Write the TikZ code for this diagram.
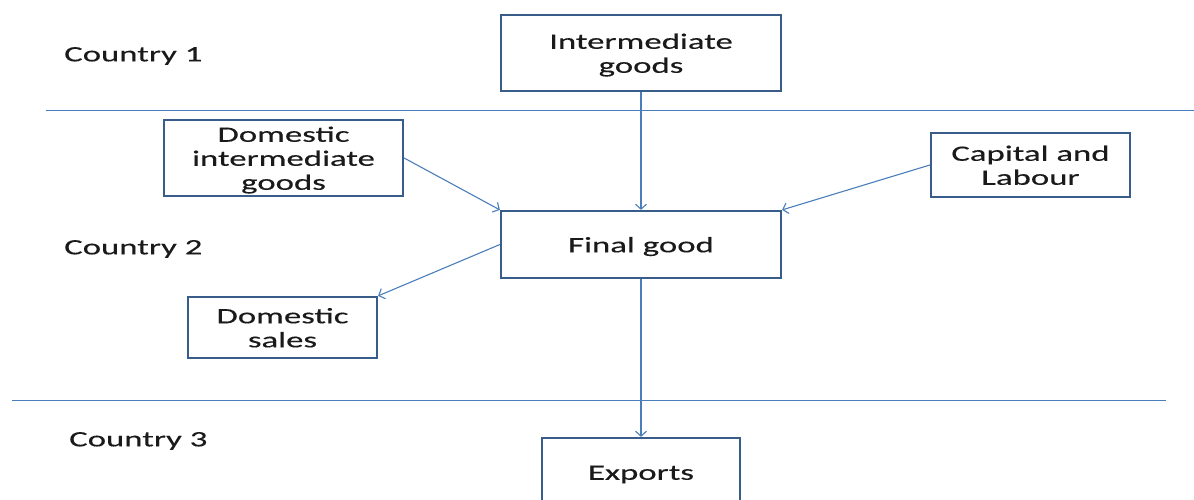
\documentclass[tikz,border=0pt]{standalone}
\usepackage{fontspec}
\setmainfont{Carlito}[FakeStretch=1.58,FakeBold=0.3]
\usetikzlibrary{arrows.meta}
\definecolor{boxline}{HTML}{385D8A}
\definecolor{conn}{HTML}{4A7EBB}
\definecolor{txt}{HTML}{1A1A1A}
\newcommand\boxtext[1]{\raisebox{-3pt}[\height][\depth]{\begin{tabular}{@{}c@{}}#1\end{tabular}}}
\tikzset{
  box/.style={draw=boxline, line width=2.2pt, fill=white, align=center, inner sep=0pt,
    text=txt, font=\fontsize{22}{24}\selectfont},
  label/.style={anchor=west, inner sep=0pt, text=txt, font=\fontsize{22}{24}\selectfont},
  conn/.style={draw=conn, line width=1.1pt, -{Straight Barb[length=5pt,width=11pt,line width=1.1pt]}},
  sep/.style={draw=conn, line width=1pt}
}
\begin{document}
\begin{tikzpicture}[x=1pt,y=-1pt]
\useasboundingbox (0,0) rectangle (1194,500);
\clip (0,0) rectangle (1194,500);
% separator lines
\draw[sep] (46,111) -- (1194,111);
\draw[sep] (12,400) -- (1166,400);
% country labels
\node[label] (c1) at (64,56) {Country 1};
\node[label] (c2) at (64,249) {Country 2};
\node[label] (c3) at (69,441) {Country 3};
% boxes
\node[box, minimum width=280, minimum height=76] (ig) at (641,53) {\boxtext{Intermediate\\goods}};
\node[box, minimum width=239, minimum height=76] (dig) at (283.5,158) {\boxtext{Domestic\\intermediate\\goods}};
\node[box, minimum width=199, minimum height=64] (cl) at (1030.5,165) {\boxtext{Capital and\\Labour}};
\node[box, minimum width=280, minimum height=67] (fg) at (641,244.5) {\boxtext{Final good}};
\node[box, minimum width=189, minimum height=61] (ds) at (282.5,327.5) {\boxtext{Domestic\\sales}};
\node[box, minimum width=198, minimum height=68] (ex) at (641,472) {\boxtext{Exports}};
% connectors
\draw[conn] (ig.south) -- (fg.north);
\draw[conn] (dig.east) -- (fg.north west);
\draw[conn] (cl.west) -- (fg.north east);
\draw[conn] (fg.west) -- (ds.north east);
\draw[conn] (fg.south) -- (ex.north);
\end{tikzpicture}
\end{document}
